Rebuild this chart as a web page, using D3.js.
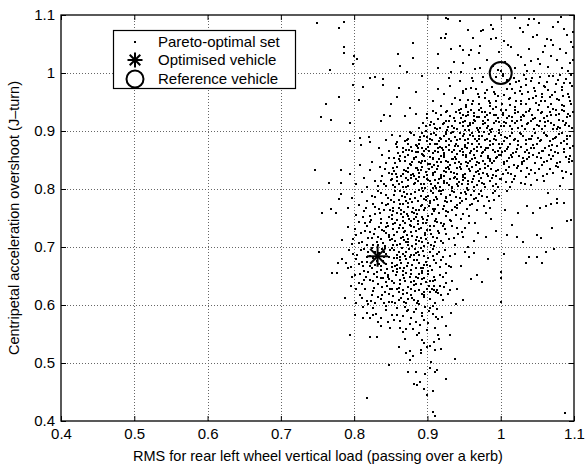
<!DOCTYPE html>
<html>
<head>
<meta charset="utf-8">
<script src="https://cdn.jsdelivr.net/npm/d3@7"></script>
<style>
  body { margin: 0; background: #fff; }
  text { font-family: "Liberation Sans", Arial, Helvetica, sans-serif; fill: #000; }
</style>
</head>
<body>
<div class="chart"></div>
<script>
// tick values and labels
var xTicks = [0.4, 0.5, 0.6, 0.7, 0.8, 0.9, 1.0, 1.1];
var yTicks = [0.4, 0.5, 0.6, 0.7, 0.8, 0.9, 1.0, 1.1];
var xTitle = "RMS for rear left wheel vertical load (passing over a kerb)";
var yTitle = "Centripetal acceleration overshoot (J\u2013turn)";
var legendLabels = ["Pareto-optimal set", "Optimised vehicle", "Reference vehicle"];

// special solutions
var optimised = [0.832, 0.684];
var reference = [1.0, 1.0];

// Pareto set: lower lobe (y < 0.75)
var paretoLower = [
  [.907,.416],[.910,.409],[1.088,.413],[.899,.445],[.818,.440],[.895,.455],[.907,.451],
  [.882,.463],[.886,.462],[.890,.467],[.925,.472],[.873,.484],[.885,.484],[.897,.481],[.913,.488],[.910,.484],[.904,.491],[.847,.497],
  [.861,.528],[.869,.541],[.871,.517],[.876,.521],[.876,.505],[.891,.517],[.891,.522],[.899,.528],[.892,.540],[.886,.548],[.938,.507],
  [.918,.524],[.905,.501],[.910,.522],[.904,.529],[.909,.537],[.916,.541],[.914,.548],[.794,.549],[.822,.545],[.831,.544],[.895,.535],[.880,.512],
  [.880,.559],[.876,.567],[.862,.561],[.849,.561],[.855,.574],[.846,.571],[.836,.564],[.837,.577],[.822,.577],[.812,.577],[.801,.583],
  [.830,.585],[.844,.591],[.812,.596],[.925,.563],[.931,.548],[.910,.560],[.912,.580],[.920,.580],[.914,.576],[.907,.585],[.913,.593],
  [.907,.599],[.932,.586],[.939,.602],[.866,.553],[.871,.558],[.884,.571],[.890,.566],[.895,.574],[.899,.557],[.902,.590],[.893,.586],
  [.884,.593],[.872,.589],[.866,.581],[.858,.595],[.851,.583],[.888,.551],[.901,.569],[.877,.578],[.862,.572],[.897,.597],[.826,.594],[.833,.571],
  [.803,.604],[.811,.612],[.818,.607],[.824,.618],[.829,.603],[.836,.611],[.842,.622],[.847,.606],[.853,.615],[.858,.628],[.861,.609],
  [.866,.619],[.871,.603],[.874,.631],[.879,.612],[.883,.624],[.887,.607],[.891,.636],[.895,.617],[.899,.628],[.903,.611],[.907,.641],
  [.912,.622],[.917,.633],[.921,.609],[.928,.619],[.934,.642],[.787,.612],[.796,.632],[.806,.638],[.815,.627],[.821,.643],[.833,.636],
  [.839,.647],[.845,.632],[.851,.641],[.862,.637],[.868,.646],[.877,.639],[.884,.648],[.893,.644],[.902,.632],[.909,.649],[.926,.638],
  [.941,.628],[.816,.649],[.827,.629],[.856,.603],[.886,.603],[.931,.626],[.949,.609],[.913,.626],[.909,.626],[.904,.622],
  [.776,.656],[.784,.679],[.792,.663],[.798,.688],[.801,.652],[.806,.671],[.809,.694],[.813,.659],[.817,.682],[.821,.667],[.824,.698],
  [.827,.654],[.831,.676],[.834,.689],[.837,.661],[.841,.683],[.844,.671],[.846,.652],[.849,.694],[.852,.666],[.855,.681],[.858,.657],
  [.861,.692],[.864,.673],[.867,.659],[.869,.685],[.872,.668],[.875,.697],[.878,.654],[.881,.678],[.884,.663],[.887,.691],[.889,.672],
  [.893,.656],[.896,.684],[.899,.669],[.903,.692],[.906,.661],[.909,.677],[.913,.688],[.917,.665],[.921,.683],[.926,.671],[.932,.665],
  [.938,.688],[.946,.667],[.957,.683],[.963,.689],[.921,.649],[.878,.687],[.852,.699],[.819,.691],[.811,.674],[.836,.668],[.862,.664],
  [.891,.699],[.901,.653],[.770,.656],[.778,.672],[.951,.692],[.752,.692],
  [.784,.712],[.791,.734],[.797,.705],[.803,.721],[.807,.743],[.811,.709],[.815,.728],[.819,.716],[.823,.747],[.826,.703],[.829,.731],
  [.833,.718],[.836,.741],[.839,.707],[.843,.724],[.846,.736],[.849,.712],[.852,.748],[.855,.721],[.858,.704],[.861,.733],[.864,.716],
  [.867,.744],[.870,.727],[.873,.709],[.876,.738],[.879,.719],[.882,.749],[.885,.706],[.888,.731],[.891,.715],[.894,.742],[.897,.724],
  [.901,.707],[.904,.736],[.907,.718],[.911,.745],[.914,.728],[.918,.711],[.922,.739],[.926,.722],[.931,.747],[.936,.716],[.941,.733],
  [.947,.726],[.955,.700],[.969,.725],[.980,.717],[.994,.728],[.949,.718],[.822,.726],[.853,.731],[.877,.726],[.898,.741],[.909,.702],
  [.868,.712],[.838,.729],[.815,.741],[.957,.742],[.963,.711]
];

// Pareto set, upper band (y >= 0.75)
var paretoUpper = [
  [.782,.791],[.780,.782],[.775,.759],[.769,.765],[.756,.758],[.791,.768],[.797,.784],[.802,.756],[.806,.772],[.811,.794],[.814,.762],
  [.818,.779],[.822,.753],[.825,.788],[.828,.769],[.832,.797],[.835,.758],[.838,.776],[.841,.764],[.844,.789],[.847,.752],[.850,.781],
  [.853,.767],[.856,.796],[.859,.758],[.862,.774],[.865,.788],[.868,.761],[.871,.779],[.874,.753],[.877,.792],[.880,.768],[.883,.784],
  [.886,.757],[.889,.798],[.892,.772],[.895,.763],[.898,.787],[.901,.754],[.904,.776],[.907,.793],[.910,.766],[.913,.782],[.916,.758],
  [.919,.797],[.922,.771],[.925,.786],[.928,.761],[.932,.779],[.936,.794],[.940,.767],[.944,.784],[.948,.757],[.953,.791],[.958,.773],
  [.963,.797],[.969,.779],[.975,.788],[.987,.749],[.980,.759],[.991,.781],[1.006,.763],[1.023,.759],[1.036,.770],[1.053,.767],[1.062,.770],
  [1.069,.775],[1.077,.776],[1.087,.776],[1.044,.758],[.866,.751],[.896,.782],[.846,.775],[.879,.761],
  [.746,.833],[.782,.833],[.766,.810],[.782,.811],[.795,.826],[.803,.808],[.808,.841],[.813,.819],[.817,.803],[.821,.832],[.825,.847],
  [.828,.814],[.832,.806],[.835,.838],[.838,.823],[.841,.809],[.844,.845],[.847,.828],[.850,.815],[.853,.836],[.856,.804],[.859,.821],
  [.862,.848],[.865,.812],[.868,.833],[.871,.819],[.874,.806],[.877,.842],[.880,.826],[.883,.811],[.886,.837],[.889,.821],[.892,.849],
  [.895,.808],[.898,.829],[.901,.816],[.904,.843],[.907,.824],[.910,.806],[.913,.835],[.916,.818],[.919,.846],[.922,.811],[.925,.829],
  [.928,.838],[.931,.817],[.934,.803],[.937,.844],[.940,.826],[.943,.812],[.946,.834],[.949,.821],[.952,.847],[.955,.808],[.958,.831],
  [.962,.817],[.966,.842],[.970,.826],[.974,.811],[.978,.837],[.982,.822],[.986,.848],[.990,.806],[.994,.831],[.999,.818],[1.004,.843],
  [1.010,.827],[1.016,.812],[1.022,.836],[1.029,.846],[1.035,.821],[1.042,.833],[1.049,.815],[1.056,.841],[1.064,.793],[1.071,.827],
  [1.078,.838],[1.085,.819],[1.093,.846],[.873,.829],[.908,.801],[.941,.809],[.857,.826],[.891,.832],[.923,.822],
  [.834,.871],[.838,.858],[.843,.884],[.847,.866],[.851,.893],[.854,.853],[.857,.878],[.860,.862],[.863,.891],[.866,.871],[.869,.856],
  [.872,.884],[.875,.867],[.878,.897],[.881,.852],[.884,.876],[.887,.863],[.890,.889],[.893,.871],[.896,.857],[.899,.882],[.902,.866],
  [.905,.894],[.908,.854],[.911,.877],[.914,.863],[.917,.888],[.920,.871],[.923,.856],[.926,.883],[.929,.868],[.932,.897],[.935,.852],
  [.938,.874],[.941,.861],[.944,.886],[.947,.869],[.950,.894],[.953,.858],[.956,.879],[.959,.866],[.962,.891],[.965,.853],[.968,.873],
  [.971,.886],[.974,.862],[.977,.898],[.980,.871],[.983,.857],[.986,.883],[.989,.867],[.992,.892],[.995,.855],[.998,.877],[1.002,.864],
  [1.006,.889],[1.010,.872],[1.014,.858],[1.018,.884],[1.022,.869],[1.026,.896],[1.030,.853],[1.034,.877],[1.038,.862],[1.042,.887],
  [1.046,.871],[1.050,.856],[1.054,.882],[1.058,.866],[1.062,.893],[1.066,.859],[1.070,.876],[1.074,.888],[1.078,.862],[1.082,.879],
  [1.086,.869],[1.090,.891],[1.095,.857],[1.099,.874],[.862,.891],[.869,.883],[.876,.899],[.887,.871],[.890,.884],[.898,.900],[.859,.881],
  [.820,.890],[.821,.881],[.810,.876],[.808,.888],[.794,.883],
  [.885,.930],[.899,.929],[.899,.922],[.870,.926],[.849,.926],[.841,.928],[.836,.917],[.795,.913],[.755,.925],[.769,.919],[.761,.946],
  [.850,.946],[.876,.939],[.807,.953],[.858,.959],
  [.903,.911],[.907,.934],[.911,.905],[.915,.921],[.918,.943],[.922,.914],[.925,.932],[.928,.907],[.931,.926],[.934,.946],[.937,.918],
  [.940,.903],[.943,.937],[.946,.922],[.949,.909],[.952,.941],[.955,.928],[.958,.914],[.961,.947],[.964,.931],[.967,.906],[.970,.924],
  [.973,.939],[.976,.912],[.979,.933],[.982,.919],[.985,.948],[.988,.904],[.991,.927],[.994,.941],[.997,.915],[1.001,.936],[1.004,.908],
  [1.008,.923],[1.012,.944],[1.016,.917],[1.020,.931],[1.024,.905],[1.028,.947],[1.032,.926],[1.036,.912],[1.040,.938],[1.044,.921],
  [1.048,.949],[1.052,.908],[1.056,.933],[1.060,.916],[1.064,.942],[1.068,.927],[1.072,.903],[1.076,.936],[1.080,.919],[1.084,.944],
  [1.088,.911],[1.092,.929],[1.096,.946],[.912,.931],[.927,.902],[.946,.938],[.963,.919],[.981,.906],[1.003,.927],[1.027,.919],
  [1.051,.937],[1.078,.907],[.894,.913],[.889,.906],[.957,.902],
  [.861,.974],[.884,.968],[.798,.980],[.812,.976],[.839,.979],[.780,.959],[.922,.963],[.931,.978],[.938,.957],[.944,.986],[.949,.969],
  [.955,.953],[.961,.991],[.966,.972],[.971,.958],[.975,.984],[.979,.966],[.984,.951],[.988,.976],[.993,.993],[.996,.961],[1.003,.999],
  [1.001,1.004],[1.008,.988],[1.012,.957],[1.016,.973],[1.021,.952],[1.025,.986],[1.029,.964],[1.034,.979],[1.038,.955],[1.043,.992],
  [1.047,.969],[1.052,.983],[1.057,.958],[1.061,.976],[1.066,.995],[1.070,.962],[1.075,.981],[1.079,.953],[1.084,.971],[1.089,.989],
  [1.093,.958],[1.097,.977],[.953,.972],[.992,.963],[1.018,.991],[1.055,.952],[1.081,.996],[.907,.951],[.914,.973],[.929,.992],
  [.872,1.001],[.892,.995],
  [.822,.991],[.828,.993],[.840,.990],[.863,1.012],[.880,1.026],[.860,1.033],[.800,1.029],[.804,1.024],[.799,1.015],[.767,1.006],
  [.786,1.044],[.786,1.034],[.880,1.052],[.932,1.041],[.948,1.018],[.957,1.031],[.965,1.007],[.972,1.046],[.981,1.022],[.989,1.012],
  [.997,1.037],[1.006,1.019],[1.014,1.044],[1.019,1.008],[1.027,1.027],[1.033,1.013],[1.039,1.041],[1.046,1.004],[1.051,1.024],
  [1.058,1.036],[1.064,1.011],[1.071,1.048],[1.077,1.022],[1.083,1.009],[1.089,1.034],[1.094,1.017],[1.099,1.045],[.936,1.019],[.944,1.046],
  [.749,1.086],[.786,1.088],[.780,1.077],[.925,1.068],[.945,1.089],[.962,1.061],[.987,1.083],[1.004,1.056],[1.019,1.094],[1.031,1.071],
  [1.044,1.062],[1.052,1.087],[1.063,1.058],[1.071,1.079],[1.082,1.097],[1.090,1.066],[1.096,1.053],[.973,1.072],[1.039,1.093]
];

// dense core of the lobe, where the picture is almost solid
var paretoCoreLobe = [
  [.817,.586],[.843,.598],[.858,.583],[.869,.596],[.881,.588],[.893,.581],[.904,.594],[.826,.582],[.874,.592],
  [.808,.617],[.819,.601],[.833,.614],[.848,.619],[.852,.606],[.864,.612],[.877,.618],[.889,.601],[.896,.613],[.911,.604],[.918,.617],
  [.841,.603],[.868,.605],[.881,.609],
  [.802,.627],[.811,.636],[.826,.624],[.838,.631],[.849,.627],[.855,.638],[.866,.626],[.872,.621],[.881,.634],[.889,.626],[.898,.639],
  [.906,.627],[.915,.621],[.923,.631],[.843,.639],[.861,.629],[.878,.627],[.895,.623],
  [.797,.648],[.808,.653],[.819,.657],[.826,.641],[.831,.649],[.842,.655],[.848,.644],[.857,.651],[.863,.643],[.871,.656],[.876,.648],
  [.882,.641],[.888,.653],[.895,.646],[.901,.659],[.911,.643],[.917,.651],[.926,.655],[.836,.647],[.866,.651],[.853,.658],[.892,.658],[.813,.643],
  [.789,.672],[.796,.665],[.803,.679],[.812,.667],[.818,.674],[.824,.663],[.829,.669],[.839,.676],[.845,.662],[.851,.673],[.856,.668],
  [.862,.677],[.868,.664],[.873,.673],[.879,.669],[.886,.677],[.891,.664],[.898,.675],[.904,.668],[.912,.672],[.919,.678],[.929,.667],
  [.859,.662],[.834,.671],[.871,.679],[.895,.669],
  [.793,.694],[.804,.686],[.814,.697],[.822,.684],[.828,.692],[.838,.697],[.843,.688],[.848,.682],[.854,.694],[.859,.687],[.865,.699],
  [.871,.691],[.876,.683],[.883,.696],[.889,.686],[.894,.693],[.901,.681],[.907,.697],[.916,.691],[.924,.694],[.931,.684],[.842,.699],
  [.866,.688],[.881,.687],[.858,.681],
  [.798,.713],[.806,.707],[.817,.704],[.825,.716],[.831,.709],[.837,.714],[.842,.702],[.848,.718],[.856,.711],[.862,.705],[.867,.717],
  [.874,.713],[.879,.702],[.886,.718],[.892,.709],[.898,.714],[.905,.703],[.913,.716],[.921,.707],[.929,.713],[.938,.704],[.853,.703],
  [.871,.709],[.884,.712],[.895,.701],
  [.801,.731],[.809,.724],[.818,.737],[.827,.722],[.834,.735],[.841,.728],[.847,.721],[.853,.739],[.859,.726],[.866,.733],[.872,.721],
  [.878,.736],[.884,.727],[.891,.733],[.897,.721],[.903,.729],[.909,.737],[.916,.724],[.924,.731],[.933,.736],[.942,.723],[.951,.733],
  [.863,.738],[.887,.739],[.905,.722],
  [.812,.752],[.821,.743],[.829,.757],[.837,.748],[.845,.742],[.851,.756],[.858,.746],[.864,.757],[.869,.741],[.875,.749],[.881,.758],
  [.887,.744],[.893,.752],[.899,.746],[.906,.757],[.912,.749],[.918,.741],[.925,.753],[.932,.744],[.939,.756],[.946,.749],[.957,.753],
  [.965,.742],[.884,.751],
  [.816,.768],[.826,.775],[.834,.766],[.843,.772],[.849,.764],[.855,.777],[.861,.767],[.867,.774],[.873,.769],[.879,.777],[.885,.764],
  [.891,.771],[.897,.768],[.903,.779],[.909,.762],[.915,.773],[.921,.766],[.927,.777],[.934,.764],[.941,.772],[.947,.779],[.954,.766],
  [.961,.774],[.968,.764],[.977,.771],[.985,.768],[.864,.763],[.902,.771],[.938,.769],
  [.823,.607],[.838,.618],[.861,.622],[.874,.611],[.892,.619],[.851,.628],[.884,.637],[.909,.633],[.831,.657],[.846,.649],[.869,.641],
  [.887,.647],[.903,.641],[.858,.669],[.877,.661],[.894,.663],[.826,.681],[.841,.692],[.863,.683],[.884,.689],[.908,.684],[.832,.703],
  [.851,.714],[.873,.703],[.889,.711],[.911,.709],[.844,.734],[.868,.726],[.882,.734],[.899,.729],[.921,.736],[.856,.742],[.877,.745],
  [.894,.748],[.913,.743],[.853,.762],[.872,.757],[.889,.763],[.907,.765],[.926,.762]
];

// dense core of the diagonal band
var paretoCoreBand = [
  [.829,.786],[.837,.793],[.846,.784],[.855,.789],[.862,.797],[.869,.786],[.876,.782],[.883,.794],[.891,.788],[.898,.781],[.905,.797],
  [.912,.786],[.918,.792],[.926,.784],[.933,.797],[.939,.787],[.946,.793],[.952,.782],[.959,.789],[.966,.784],[.973,.796],[.981,.786],
  [.989,.793],[.997,.788],[1.008,.796],[.872,.791],[.921,.798],[.956,.798],
  [.836,.813],[.843,.806],[.852,.817],[.861,.808],[.867,.803],[.874,.815],[.881,.808],[.887,.813],[.893,.802],[.899,.818],[.905,.809],
  [.911,.816],[.917,.804],[.923,.813],[.929,.807],[.936,.819],[.942,.806],[.948,.815],[.954,.802],[.961,.812],[.967,.807],[.973,.819],
  [.979,.804],[.986,.814],[.993,.809],[1.001,.817],[1.013,.804],[1.027,.811],[1.041,.807],[1.059,.813],[1.081,.806],[.878,.819],[.915,.811],[.951,.819],
  [.842,.834],[.851,.826],[.858,.838],[.864,.823],[.871,.831],[.877,.825],[.884,.836],[.889,.828],[.896,.821],[.902,.834],[.908,.827],
  [.914,.839],[.919,.824],[.926,.836],[.932,.829],[.938,.821],[.944,.838],[.951,.826],[.957,.834],[.963,.823],[.969,.831],[.976,.827],
  [.983,.839],[.989,.824],[.996,.833],[1.003,.826],[1.011,.838],[1.019,.823],[1.028,.831],[1.036,.836],[1.047,.827],[1.058,.823],
  [1.067,.835],[1.083,.831],[1.096,.826],[.893,.838],[.922,.831],[.961,.838],
  [.848,.853],[.856,.845],[.863,.857],[.869,.848],[.876,.843],[.882,.854],[.888,.846],[.894,.858],[.901,.843],[.907,.851],[.913,.846],
  [.919,.857],[.925,.849],[.931,.842],[.937,.855],[.943,.847],[.949,.859],[.955,.844],[.961,.852],[.967,.846],[.973,.857],[.979,.843],
  [.985,.851],[.991,.848],[.997,.859],[1.004,.846],[1.011,.853],[1.018,.842],[1.025,.857],[1.032,.848],[1.039,.855],[1.047,.844],
  [1.055,.853],[1.063,.848],[1.072,.857],[1.081,.846],[1.089,.855],[1.097,.849],[.897,.849],[.934,.851],[.976,.849],
  [.858,.872],[.866,.864],[.873,.877],[.879,.866],[.886,.874],[.892,.861],[.898,.869],[.904,.878],[.911,.866],[.917,.873],[.923,.862],
  [.929,.876],[.936,.868],[.942,.874],[.948,.863],[.954,.871],[.961,.878],[.967,.865],[.973,.872],[.979,.868],[.986,.876],[.992,.863],
  [.999,.871],[1.006,.866],[1.013,.877],[1.021,.864],[1.028,.873],[1.036,.867],[1.044,.876],[1.052,.862],[1.061,.871],[1.069,.867],
  [1.077,.875],[1.086,.863],[1.094,.871],[.913,.878],[.951,.876],[1.002,.878],
  [.874,.886],[.882,.893],[.889,.884],[.896,.892],[.903,.887],[.909,.896],[.916,.883],[.922,.891],[.929,.886],[.935,.898],[.941,.884],
  [.948,.891],[.955,.887],[.961,.896],[.968,.883],[.974,.892],[.981,.887],[.987,.898],[.994,.884],[1.001,.893],[1.008,.888],[1.015,.897],
  [1.023,.882],[1.031,.891],[1.039,.886],[1.047,.897],[1.055,.884],[1.063,.892],[1.071,.886],[1.079,.895],[1.087,.883],[1.095,.892],
  [.926,.899],[.971,.899],
  [.898,.908],[.905,.916],[.913,.903],[.921,.912],[.929,.918],[.936,.906],[.944,.914],[.951,.902],[.958,.911],[.965,.917],[.972,.906],
  [.979,.913],[.986,.902],[.993,.918],[1.000,.909],[1.007,.914],[1.015,.903],[1.022,.917],[1.029,.909],[1.037,.913],[1.045,.904],
  [1.053,.918],[1.061,.909],[1.069,.914],[1.077,.903],[1.085,.917],[1.093,.908],[.951,.917],[.998,.902],
  [.918,.927],[.927,.934],[.936,.923],[.944,.931],[.952,.926],[.959,.937],[.967,.924],[.974,.932],[.981,.927],[.989,.938],[.996,.923],
  [1.003,.931],[1.011,.926],[1.019,.937],[1.027,.924],[1.035,.932],[1.043,.928],[1.051,.937],[1.059,.923],[1.067,.933],[1.075,.927],
  [1.083,.936],[1.091,.924],[1.098,.932],
  [.934,.947],[.944,.953],[.953,.944],[.962,.952],[.970,.946],[.978,.957],[.986,.943],[.994,.951],[1.002,.947],[1.011,.956],[1.019,.942],
  [1.027,.951],[1.035,.946],[1.044,.957],[1.052,.944],[1.061,.952],[1.069,.947],[1.077,.956],[1.086,.943],[1.094,.951],
  [.948,.966],[.959,.974],[.969,.963],[.981,.971],[.991,.967],[1.009,.972],[1.019,.965],[1.028,.976],[1.037,.968],[1.046,.974],[1.056,.963],
  [1.065,.971],[1.074,.967],[1.083,.976],[1.092,.964],
  [.962,.987],[.976,.993],[1.021,.984],[1.032,.996],[1.041,.986],[1.053,.993],[1.063,.984],[1.072,.994],[1.087,.983],[1.096,.997]
];

// darkest part of the band, a second pass over the picture
var paretoCoreDark = [
  [.861,.781],[.868,.794],[.874,.776],[.887,.779],[.894,.797],[.901,.788],[.909,.781],[.916,.796],[.924,.779],[.931,.789],[.944,.776],
  [.951,.795],[.963,.783],[.971,.791],[.984,.779],[.992,.797],
  [.853,.807],[.859,.813],[.871,.804],[.884,.817],[.891,.809],[.897,.801],[.904,.814],[.912,.802],[.919,.819],[.927,.811],[.933,.802],
  [.941,.817],[.947,.808],[.956,.814],[.964,.803],[.971,.813],[.977,.808],[.988,.819],[.996,.803],[1.007,.812],[1.018,.818],[1.033,.808],
  [.854,.831],[.867,.826],[.874,.837],[.881,.822],[.887,.833],[.899,.825],[.906,.838],[.911,.829],[.918,.821],[.929,.834],[.936,.827],
  [.941,.836],[.948,.824],[.954,.839],[.966,.829],[.972,.835],[.981,.826],[.987,.834],[.994,.822],[1.007,.832],[1.014,.826],[1.024,.839],
  [1.039,.826],[1.052,.834],[1.063,.826],[1.076,.839],[1.089,.829],
  [.861,.852],[.873,.859],[.879,.847],[.885,.856],[.891,.844],[.903,.856],[.909,.842],[.916,.852],[.922,.858],[.928,.847],[.939,.852],
  [.946,.843],[.952,.856],[.958,.849],[.964,.858],[.971,.844],[.982,.854],[.988,.845],[.994,.853],[1.001,.858],[1.008,.849],[1.016,.855],
  [1.029,.843],[1.036,.852],[1.044,.858],[1.059,.846],[1.068,.851],[1.077,.844],[1.093,.852],
  [.871,.868],[.877,.872],[.884,.863],[.889,.878],[.895,.865],[.901,.873],[.907,.862],[.914,.871],[.921,.867],[.926,.873],[.933,.863],
  [.939,.878],[.945,.866],[.951,.872],[.958,.862],[.964,.869],[.971,.877],[.976,.864],[.983,.871],[.989,.877],[.996,.865],[1.009,.869],
  [1.017,.862],[1.024,.876],[1.033,.863],[1.041,.871],[1.049,.877],[1.057,.866],[1.066,.874],[1.074,.864],[1.091,.877],
  [.893,.897],[.899,.889],[.906,.884],[.912,.893],[.919,.886],[.925,.895],[.932,.883],[.938,.889],[.945,.897],[.951,.885],[.958,.893],
  [.965,.886],[.971,.891],[.978,.884],[.984,.894],[.991,.887],[.998,.896],[1.004,.883],[1.012,.891],[1.019,.887],[1.027,.895],[1.035,.884],
  [1.043,.891],[1.051,.888],[1.059,.896],[1.067,.883],[1.075,.889],[1.083,.897],[1.091,.886],
  [.909,.912],[.917,.906],[.925,.917],[.933,.909],[.941,.903],[.948,.916],[.955,.908],[.962,.913],[.969,.901],[.976,.917],[.983,.909],
  [.991,.913],[1.004,.916],[1.012,.908],[1.019,.913],[1.033,.904],[1.041,.917],[1.049,.911],[1.057,.903],[1.065,.918],[1.073,.911],
  [1.081,.906],[1.089,.914],[1.097,.905],
  [.939,.932],[.948,.927],[.956,.933],[.963,.926],[.971,.936],[.978,.924],[.986,.931],[.993,.928],[1.007,.936],[1.015,.924],[1.023,.933],
  [1.031,.928],[1.039,.934],[1.047,.923],[1.055,.931],[1.063,.926],[1.071,.938],[1.079,.929],[1.087,.934],[1.095,.926]
];

// top right corner, above the band
var paretoUpperRight = [
  [1.004,.962],[1.013,.981],[1.026,.969],[1.035,.989],[1.048,.961],[1.059,.978],[1.067,.958],[1.078,.988],[1.085,.961],[1.094,.983],
  [1.011,1.012],[1.023,1.031],[1.036,1.004],[1.054,1.015],[1.068,1.029],[1.081,1.042],[1.092,1.003],[1.099,1.022],[1.042,1.021],[1.061,1.047]
];

// scattered outliers around the cloud
var paretoSparse = [
  [.926,1.094],[.955,1.075],[.976,1.075],[.960,1.040],[.971,1.034],[.949,1.040],[.919,1.061],[.924,1.061],[.928,1.093],[.989,1.076],
  [.987,1.058],[.994,1.060],[.914,1.032],[.915,1.009],[.972,1.008],[.946,1.002],[.932,1.001],[1.010,1.048],[1.026,1.077],[1.037,1.083],
  [1.046,1.093],[1.078,1.088],[1.086,1.076],[1.098,1.071],[1.050,1.066],[1.069,1.057],[.996,1.005],[1.003,.994],
  [1.015,.738],[1.090,.745],[1.070,.732],[1.050,.721],[1.055,.715],[1.031,.709],[1.022,.717],[1.009,.721],[1.039,.683],[1.050,.683],
  [1.035,.673],[1.056,.673],[1.073,.697],[1.062,.692],[1.005,.688],[1.001,.657],[1.001,.646],[.982,.680],[.975,.640],[.968,.652],
  [.960,.644],[.946,.667],[.957,.683],[.932,.665],[.921,.649],[1.064,.793],[1.077,.783],[1.096,.747],[1.000,.605]
];

var margin = { left: 61, right: 11, top: 15, bottom: 45 };
var width = 585, height = 466;
var plotW = width - margin.left - margin.right;
var plotH = height - margin.top - margin.bottom;

var svg = d3.select(".chart")
  .append("svg")
  .attr("width", width)
  .attr("height", height);

var x = d3.scaleLinear().domain([0.4, 1.1]).range([margin.left, margin.left + plotW]);
var y = d3.scaleLinear().domain([0.4, 1.1]).range([margin.top + plotH, margin.top]);

// dotted grid
var grid = svg.append("g")
  .attr("stroke", "#666")
  .attr("stroke-width", 1)
  .attr("stroke-dasharray", "1,2");
grid.selectAll(".vg")
  .data(xTicks.slice(1, -1)).enter()
  .append("line")
  .attr("x1", function (d) { return Math.round(x(d)) + 0.5 })
  .attr("x2", function (d) { return Math.round(x(d)) + 0.5 })
  .attr("y1", y(1.1)).attr("y2", y(0.4));
grid.selectAll(".hg")
  .data(yTicks.slice(1, -1)).enter()
  .append("line")
  .attr("y1", function (d) { return Math.round(y(d)) + 0.5 })
  .attr("y2", function (d) { return Math.round(y(d)) + 0.5 })
  .attr("x1", x(0.4)).attr("x2", x(1.1));

// point cloud
var allPoints = paretoLower.concat(paretoUpper, paretoCoreLobe, paretoCoreBand, paretoCoreDark, paretoUpperRight, paretoSparse);
svg.append("g")
  .selectAll("rect")
  .data(allPoints).enter()
  .append("rect")
  .attr("x", function (d) { return Math.round(x(d[0])) - 1 })
  .attr("y", function (d) { return Math.round(y(d[1])) - 1 })
  .attr("width", 2)
  .attr("height", 2)
  .attr("fill", "#000")
  .attr("shape-rendering", "crispEdges");

// axes, ticks pointing inward as in matlab
var fmt = function (d) { return d === 1 ? "1" : d3.format(".1f")(d) };
var xAxis = d3.axisBottom(x).tickValues(xTicks).tickSize(-5).tickPadding(7).tickFormat(fmt);
var yAxis = d3.axisLeft(y).tickValues(yTicks).tickSize(-5).tickPadding(6).tickFormat(fmt);

var gx = svg.append("g").attr("transform", `translate(0, ${y(0.4)})`).call(xAxis);
var gy = svg.append("g").attr("transform", `translate(${x(0.4)}, 0)`).call(yAxis);
var gxTop = svg.append("g").attr("transform", `translate(0, ${y(1.1)})`)
  .call(d3.axisTop(x).tickValues(xTicks).tickSize(-5).tickFormat(""));
var gyRight = svg.append("g").attr("transform", `translate(${x(1.1)}, 0)`)
  .call(d3.axisRight(y).tickValues(yTicks).tickSize(-5).tickFormat(""));

[gx, gy, gxTop, gyRight].forEach(function (g) {
  g.select(".domain").remove();
  g.selectAll("line").attr("stroke", "#000");
  g.selectAll("text").style("font-size", "15px").attr("fill", "#000");
});

// frame
svg.append("rect")
  .attr("x", x(0.4)).attr("y", y(1.1))
  .attr("width", x(1.1) - x(0.4)).attr("height", y(0.4) - y(1.1))
  .attr("fill", "none").attr("stroke", "#000").attr("stroke-width", 1.3);

// asterisk marker
function asterisk(g, cx, cy, r, sw) {
  [0, 45, 90, 135].forEach(function (a) {
    var rad = a * Math.PI / 180;
    g.append("line")
      .attr("x1", cx - r * Math.cos(rad)).attr("y1", cy - r * Math.sin(rad))
      .attr("x2", cx + r * Math.cos(rad)).attr("y2", cy + r * Math.sin(rad))
      .attr("stroke", "#000").attr("stroke-width", sw);
  });
}

asterisk(svg.append("g"), x(optimised[0]), y(optimised[1]), 10.5, 2);
svg.append("circle")
  .attr("cx", x(reference[0])).attr("cy", y(reference[1])).attr("r", 11)
  .attr("fill", "none").attr("stroke", "#000").attr("stroke-width", 2);

// legend
var legend = svg.append("g");
legend.append("rect")
  .attr("x", 113.5).attr("y", 30.5).attr("width", 182).attr("height", 58)
  .attr("fill", "#fff").attr("stroke", "#000").attr("stroke-width", 1.2);
var rowY = [42, 60, 79];
legend.append("rect").attr("x", 134).attr("y", rowY[0] - 1).attr("width", 2).attr("height", 2).attr("fill", "#000");
asterisk(legend, 135, rowY[1], 7.5, 2);
legend.append("circle").attr("cx", 135).attr("cy", rowY[2]).attr("r", 8.5)
  .attr("fill", "none").attr("stroke", "#000").attr("stroke-width", 2);
legend.selectAll("text")
  .data(legendLabels).enter()
  .append("text")
  .attr("x", 158)
  .attr("y", function (d, i) { return rowY[i] })
  .attr("dy", "0.36em")
  .style("font-size", "15px")
  .text(function (d) { return d });

// axis titles
svg.append("text")
  .attr("x", (x(0.4) + x(1.1)) / 2 + 0.5)
  .attr("y", 461)
  .attr("text-anchor", "middle")
  .style("font-size", "14.5px")
  .text(xTitle);

svg.append("text")
  .attr("transform", `translate(19, ${(y(0.4) + y(1.1)) / 2}) rotate(-90)`)
  .attr("text-anchor", "middle")
  .style("font-size", "14.5px")
  .text(yTitle);
</script>
</body>
</html>
